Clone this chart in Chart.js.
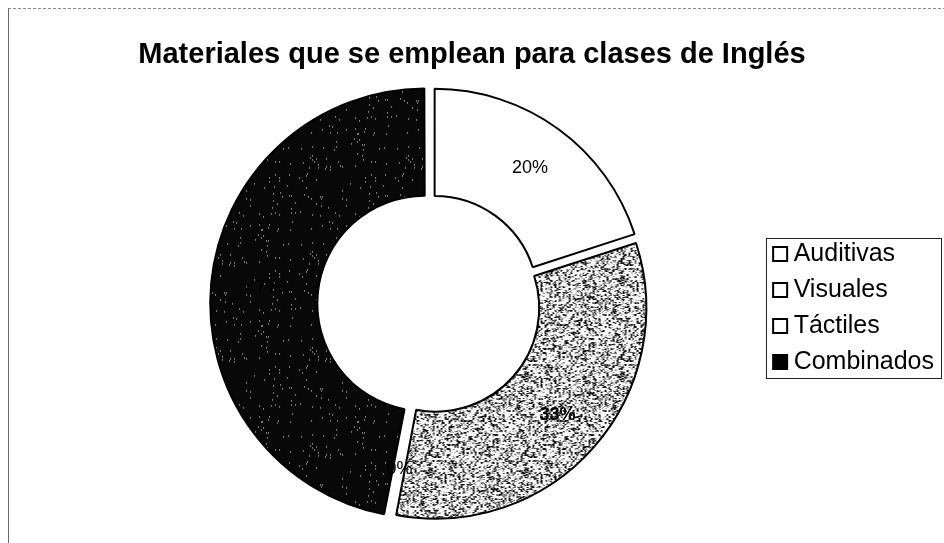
<!DOCTYPE html>
<html lang="es">
<head>
<meta charset="utf-8">
<title>Materiales que se emplean para clases de Inglés</title>
<script src="https://cdn.jsdelivr.net/npm/chart.js@4.4.1/dist/chart.umd.min.js"></script>
<style>
  html, body { margin: 0; padding: 0; background: #fff; }
  #wrap { position: relative; width: 944px; height: 543px; overflow: hidden; }
  #frame { position: absolute; left: 8px; top: 8px; right: -2px; bottom: -2px;
           border-left: 1px solid #6a6a6a; border-top: 1px dashed #8a8a8a; }
  #title { position: absolute; left: 0; top: 39px; width: 944px; text-align: center;
           font: bold 29px/29px "Liberation Sans", Arial, sans-serif; color: #000; }
  canvas { position: absolute; left: 0; top: 0; }
</style>
</head>
<body>
<div id="wrap">
  <div id="frame"></div>
  <canvas id="materialsChart" width="944" height="543"></canvas>
  <div id="title">Materiales que se emplean para clases de Inglés</div>
</div>
<script>
const categories = ['Auditivas', 'Visuales', 'Táctiles', 'Combinados'];
const percentages = [20, 33, 0, 47];

// cheap integer hash so the grain is the same on every render
function grain(x, y, seed) {
    let h = (x * 374761393 + y * 668265263 + seed * 982451653) | 0;
    h = Math.imul(h ^ (h >>> 13), 1274126177);
    h ^= h >>> 16;
    return (h >>> 0) / 4294967296;
}

// speckled fills, like a photocopied print; cell > 1 gives coarser grain
function makeTexture(seed, cell, shadeFor) {
    const size = 96;
    const c = document.createElement('canvas');
    c.width = size;
    c.height = size;
    const g = c.getContext('2d');
    const img = g.createImageData(size, size);
    for (let y = 0; y < size; y++) {
        for (let x = 0; x < size; x++) {
            const coarse = grain(Math.floor(x / cell), Math.floor(y / cell), seed);
            const fine = grain(x, y, seed + 11);
            const v = shadeFor(coarse * 0.6 + fine * 0.4);
            const k = (y * size + x) * 4;
            img.data[k] = img.data[k + 1] = img.data[k + 2] = v;
            img.data[k + 3] = 255;
        }
    }
    g.putImageData(img, 0, 0);
    return g.createPattern(c, 'repeat');
}

const ctx = document.getElementById('materialsChart').getContext('2d');
const greyGrain = makeTexture(7, 2, v => v < 0.33 ? 20 : v < 0.45 ? 140 : 248);
const blackGrain = makeTexture(3, 1, v => v > 0.93 ? 235 : 8);

const sliceFill = ['#ffffff', greyGrain, '#ffffff', blackGrain];
const swatchFill = ['#ffffff', '#ffffff', '#ffffff', '#000000'];

// percentage text in the middle of each ring piece; bold on the grey grain
const sliceLabels = {
    id: 'sliceLabels',
    afterDatasetsDraw(chart) {
        const c = chart.ctx;
        const arcs = chart.getDatasetMeta(0).data;
        c.save();
        c.fillStyle = '#000';
        c.textAlign = 'center';
        c.textBaseline = 'middle';
        arcs.forEach((arc, i) => {
            const weight = sliceFill[i] === greyGrain ? 'bold ' : '';
            c.font = weight + '18px "Liberation Sans", Arial, sans-serif';
            const p = arc.tooltipPosition();
            c.fillText(percentages[i] + '%', p.x, p.y);
        });
        c.restore();
    }
};

// thin box around the legend
const legendFrame = {
    id: 'legendFrame',
    afterDraw(chart) {
        const lg = chart.legend;
        const boxes = lg.legendHitBoxes;
        if (!boxes || !boxes.length) return;
        const first = boxes[0];
        const last = boxes[boxes.length - 1];
        const left = Math.round(lg.left - 2) + 0.5;
        const right = Math.round(lg.right - 3) + 0.5;
        const top = Math.round(first.top - 4) + 0.5;
        const bottom = Math.round(last.top + last.height + 3) + 0.5;
        const c = chart.ctx;
        c.save();
        c.strokeStyle = '#222';
        c.lineWidth = 1;
        c.strokeRect(left, top, right - left, bottom - top);
        c.restore();
    }
};

new Chart(ctx, {
    type: 'doughnut',
    data: {
        labels: categories,
        datasets: [{
            data: percentages,
            backgroundColor: sliceFill,
            borderColor: '#000',
            borderWidth: (context) => context.raw > 0 ? 2 : 0,
            offset: 24
        }]
    },
    options: {
        responsive: false,
        animation: false,
        devicePixelRatio: 1,
        radius: 210,
        cutout: '49%',
        rotation: 0,
        layout: {
            padding: { left: 94, right: 0, top: 90, bottom: 25 }
        },
        plugins: {
            title: { display: false },
            tooltip: { enabled: false },
            legend: {
                position: 'right',
                align: 'center',
                // empty title only nudges the item column down a little
                title: { display: true, text: '', font: { size: 6, lineHeight: 1 }, padding: 1 },
                labels: {
                    color: '#000',
                    font: { family: '"Liberation Sans", Arial, sans-serif', size: 25 },
                    usePointStyle: true,
                    pointStyle: 'rect',
                    boxWidth: 2,
                    boxHeight: 14,
                    padding: 11,
                    generateLabels(chart) {
                        const items = Chart.overrides.doughnut.plugins.legend.labels.generateLabels(chart);
                        return items.map((item, i) => Object.assign(item, {
                            fillStyle: swatchFill[i],
                            strokeStyle: '#000',
                            lineWidth: 2
                        }));
                    }
                }
            }
        }
    },
    plugins: [sliceLabels, legendFrame]
});
</script>
</body>
</html>
